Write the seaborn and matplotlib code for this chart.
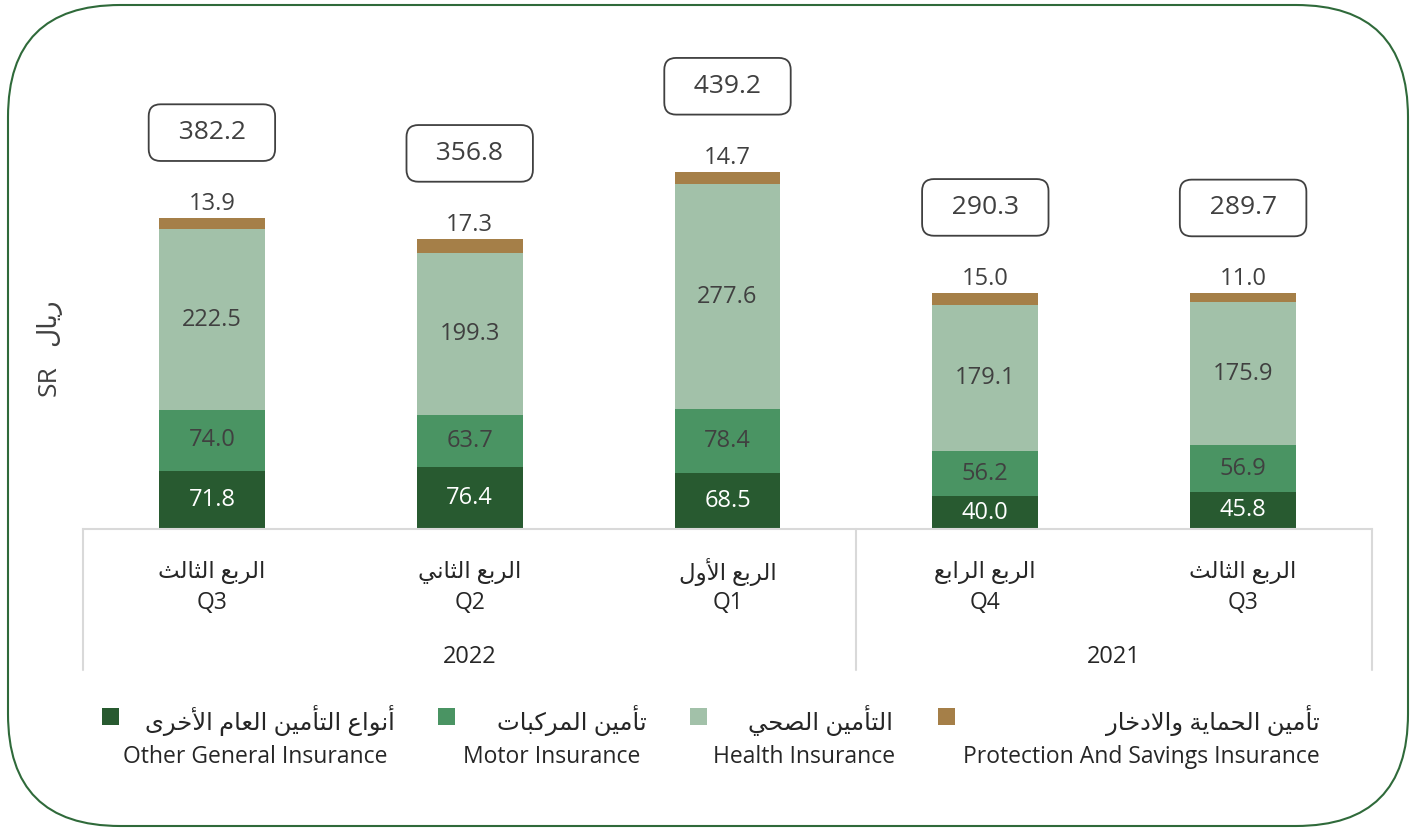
import numpy as np
import pandas as pd
import matplotlib
matplotlib.use("Agg")
import matplotlib.pyplot as plt
import seaborn as sns
from matplotlib.patches import FancyBboxPatch, Rectangle
from matplotlib.transforms import IdentityTransform

# data
periods = ["Q3 2022", "Q2 2022", "Q1 2022", "Q4 2021", "Q3 2021"]
quarter_ar = ["الربع الثالث", "الربع الثاني", "الربع الأول", "الربع الرابع", "الربع الثالث"]
quarter_en = ["Q3", "Q2", "Q1", "Q4", "Q3"]
years = ["2022", "2021"]
other_general = [71.8, 76.4, 68.5, 40.0, 45.8]
motor = [74.0, 63.7, 78.4, 56.2, 56.9]
health = [222.5, 199.3, 277.6, 179.1, 175.9]
protection = [13.9, 17.3, 14.7, 15.0, 11.0]
totals = [382.2, 356.8, 439.2, 290.3, 289.7]

legend_ar = ["أنواع التأمين العام الأخرى", "تأمين المركبات", "التأمين الصحي", "تأمين الحماية والادخار"]
legend_en = ["Other General Insurance", "Motor Insurance", "Health Insurance",
             "Protection And Savings Insurance"]

C_OTHER = "#285a30"
C_MOTOR = "#4a9463"
C_HEALTH = "#a2c1a9"
C_PROT = "#a57f48"
C_TEXT = "#404040"
C_DARK = "#262626"
C_GRID = "#d9d9d9"

# matplotlib has no arabic shaping, so pick presentation forms by hand
AR_FORMS = {
    "ا": ("\ufe8d", "\ufe8e"), "أ": ("\ufe83", "\ufe84"),
    "ب": ("\ufe8f", "\ufe90", "\ufe91", "\ufe92"), "ة": ("\ufe93", "\ufe94"),
    "ت": ("\ufe95", "\ufe96", "\ufe97", "\ufe98"), "ث": ("\ufe99", "\ufe9a", "\ufe9b", "\ufe9c"),
    "ح": ("\ufea1", "\ufea2", "\ufea3", "\ufea4"), "خ": ("\ufea5", "\ufea6", "\ufea7", "\ufea8"),
    "د": ("\ufea9", "\ufeaa"), "ر": ("\ufead", "\ufeae"),
    "ص": ("\ufeb9", "\ufeba", "\ufebb", "\ufebc"), "ع": ("\ufec9", "\ufeca", "\ufecb", "\ufecc"),
    "ك": ("\ufed9", "\ufeda", "\ufedb", "\ufedc"), "ل": ("\ufedd", "\ufede", "\ufedf", "\ufee0"),
    "م": ("\ufee1", "\ufee2", "\ufee3", "\ufee4"), "ن": ("\ufee5", "\ufee6", "\ufee7", "\ufee8"),
    "و": ("\ufeed", "\ufeee"), "ى": ("\ufeef", "\ufef0"),
    "ي": ("\ufef1", "\ufef2", "\ufef3", "\ufef4"),
}
LAM_ALEF = {"ا": ("\ufefb", "\ufefc"), "أ": ("\ufef7", "\ufef8")}


def ar(text):
    tokens = []
    i = 0
    while i < len(text):
        ch = text[i]
        if ch == "ل" and i + 1 < len(text) and text[i + 1] in LAM_ALEF:
            tokens.append(LAM_ALEF[text[i + 1]])
            i += 2
        else:
            tokens.append(AR_FORMS.get(ch, ch))
            i += 1
    out = []
    for k, tok in enumerate(tokens):
        if isinstance(tok, str):
            out.append(tok)
            continue
        prev = tokens[k - 1] if k > 0 else None
        nxt = tokens[k + 1] if k + 1 < len(tokens) else None
        join_prev = isinstance(prev, tuple) and len(prev) == 4
        join_next = len(tok) == 4 and isinstance(nxt, tuple)
        if join_prev and join_next:
            out.append(tok[3])
        elif join_prev:
            out.append(tok[1])
        elif join_next:
            out.append(tok[2])
        else:
            out.append(tok[0])
    return "".join(reversed(out))


df = pd.DataFrame({"period": periods, "other": other_general, "motor": motor,
                   "health": health, "protection": protection})
df["c1"] = df["other"]
df["c2"] = df["c1"] + df["motor"]
df["c3"] = df["c2"] + df["health"]
df["c4"] = df["c3"] + df["protection"]

sns.set_theme(style="white")
plt.rcParams["font.family"] = ["Open Sans", "DejaVu Sans"]

W, H = 1416, 831
fig = plt.figure(figsize=(W / 100, H / 100), dpi=100)
ax = fig.add_axes([83 / W, 1 - 529 / H, 1289 / W, 480 / H])

for col, color in [("c4", C_PROT), ("c3", C_HEALTH), ("c2", C_MOTOR), ("c1", C_OTHER)]:
    sns.barplot(data=df, x="period", y=col, color=color, saturation=1, width=0.41,
                errorbar=None, linewidth=0, ax=ax)

ax.set_xlim(-0.5, 4.5)
ax.set_ylim(0, 590)
ax.set_xticks([])
ax.set_yticks([])
ax.set_xlabel("")
ax.set_ylabel("")
for s in ["top", "left", "right"]:
    ax.spines[s].set_visible(False)
ax.spines["bottom"].set_color(C_GRID)
ax.spines["bottom"].set_linewidth(1.5)

# segment labels
for i in range(len(periods)):
    ax.text(i, df["c1"][i] / 2, f"{other_general[i]:.1f}", ha="center", va="center",
            fontsize=17, color="white")
    ax.text(i, df["c1"][i] + motor[i] / 2, f"{motor[i]:.1f}", ha="center", va="center",
            fontsize=17, color=C_TEXT)
    ax.text(i, df["c2"][i] + health[i] / 2, f"{health[i]:.1f}", ha="center", va="center",
            fontsize=17, color=C_TEXT)
    ax.text(i, df["c4"][i] + 10, f"{protection[i]:.1f}", ha="center", va="baseline",
            fontsize=17, color=C_TEXT)
    ax.text(i, df["c4"][i] + 105, f"  {totals[i]:.1f}  ", ha="center", va="center",
            fontsize=19, color=C_TEXT, clip_on=False,
            bbox=dict(boxstyle="round,pad=0.6,rounding_size=0.45", fc="white",
                      ec=C_TEXT, lw=1.3))

# category axis table
xt = ax.get_xaxis_transform()
for i in range(len(periods)):
    ax.text(i, -0.09, ar(quarter_ar[i]), transform=xt, ha="center", va="center",
            fontsize=16.5, color=C_DARK)
    ax.text(i, -0.155, quarter_en[i], transform=xt, ha="center", va="center",
            fontsize=16.5, color=C_DARK)
ax.text(1, -0.267, years[0], transform=xt, ha="center", va="center", fontsize=17, color=C_DARK)
ax.text(3.5, -0.267, years[1], transform=xt, ha="center", va="center", fontsize=17, color=C_DARK)
for xv in [-0.5, 2.5, 4.5]:
    ax.plot([xv, xv], [0, -0.294], transform=xt, color=C_GRID, lw=1.5, clip_on=False)

# y label
fig.text(49 / W, 1 - 381 / H, "SR", rotation=90, ha="center", va="center",
         fontsize=19, color=C_TEXT)
fig.text(48 / W, 1 - 322 / H, ar("ريال"), rotation=90, ha="center", va="center",
         fontsize=19, color=C_TEXT)

# legend
leg_colors = [C_OTHER, C_MOTOR, C_HEALTH, C_PROT]
marker_x = [102, 438, 690, 938]
ar_right = [395, 647, 893, 1320]
en_right = [388, 640, 895, 1320]
for k in range(4):
    fig.add_artist(Rectangle((marker_x[k], H - 725), 17, 17, transform=IdentityTransform(),
                             fc=leg_colors[k], ec="none"))
    fig.text(ar_right[k] / W, 1 - 720 / H, ar(legend_ar[k]), ha="right", va="center",
             fontsize=17.5, color=C_DARK)
    fig.text(en_right[k] / W, 1 - 757 / H, legend_en[k], ha="right", va="center",
             fontsize=16.5, color=C_DARK)

# rounded frame
fig.add_artist(FancyBboxPatch((8, 5), 1400, 821, boxstyle="round,pad=0,rounding_size=112",
                              transform=IdentityTransform(), fc="none", ec="#2f6a3a", lw=1.5))

fig.savefig("out.png", dpi=100)
